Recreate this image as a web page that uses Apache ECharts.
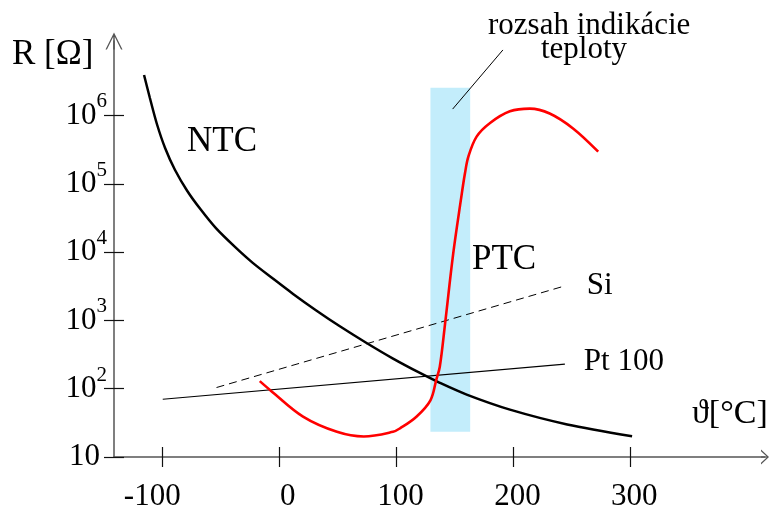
<!DOCTYPE html>
<html><head><meta charset="utf-8">
<script src="https://cdn.jsdelivr.net/npm/echarts@6/dist/echarts.min.js"></script>
<style>html,body{margin:0;padding:0;background:#fff}#c{width:779px;height:514px}</style>
</head><body><div id="c"></div>
<script>
// ---- data (temperature in °C, resistance in Ω) ----
const tempTicks = [-100, 0, 100, 200, 300];
const decadeTicks = [1, 2, 3, 4, 5, 6];          // exponents: 10, 10^2 ... 10^6

const ntcTemp = [-116, -111, -105, -98, -89.5, -79, -68, -54.5, -38, -23, -5.5, 11.5, 31, 51.5, 74, 97, 120, 137, 160, 197, 246, 301.5];
const ntcR    = [3.92e6, 1.8e6, 7.5e5, 3.34e5, 1.59e5, 7.85e4, 4.3e4, 2.24e4, 1.18e4, 6.95e3, 4.06e3, 2.44e3, 1.41e3, 820, 471, 276, 170, 122, 82, 49.4, 30, 20.2];

const ptcTemp = [-17, -8, 20, 49, 72, 97, 103, 117, 129, 134, 137, 141.5, 148.5, 155, 158.5, 161.5, 168.5, 180, 197, 214, 231, 251, 272.5];
const ptcR    = [129, 95, 39, 23.4, 20, 23.4, 26.3, 38.9, 67.6, 135, 209, 891, 9550, 5.75e4, 1.41e5, 2.51e5, 4.9e5, 7.76e5, 1.15e6, 1.26e6, 1.07e6, 6.46e5, 2.95e5];

const siTemp = [-54, 243];
const siR    = [104, 3160];

const ptTemp = [-100, 244];
const ptR    = [70, 229];

const bandTemp = [129, 163];
const bandR    = [23.4, 2.55e6];

const leaderTemp = [148, 191];
const leaderR    = [1.24e6, 9.1e6];

// ---- chart ----
const FONT = '"Liberation Serif", "Times New Roman", serif';
const lg = v => Math.log10(v);
const pts = (t, r) => t.map((x, i) => [x, lg(r[i])]);

const X_MIN = -141.7, X_MAX = 415.2, Y_MIN = 1, Y_MAX = 7.09;
const X_ARROW = 'path://M7.5,0L15,8L13.35,8L7.5,1.75L1.65,8L0,8ZM6.9,1.75L8.1,1.75L8.1,8L6.9,8Z';
const Y_ARROW = 'path://M8,0L16,16L14.66,16L8,2.7L1.34,16L0,16ZM7.3,2.6L8.7,2.6L8.7,16L7.3,16Z';

const axisLineStyle = {color: '#555', width: 1.5};
const tickStyle = {color: '#111', width: 1.2};
const xRich = {
  n: {fontSize: 31, lineHeight: 31, fontFamily: FONT, color: '#000', padding: [0, 29, 0, 0]},
  z: {fontSize: 31, lineHeight: 31, fontFamily: FONT, color: '#000', padding: [0, 0, 0, 8]},
  p: {fontSize: 31, lineHeight: 31, fontFamily: FONT, color: '#000'}
};

const chart = echarts.init(document.getElementById('c'), null, {renderer: 'canvas'});
chart.setOption({
  animation: false,
  backgroundColor: '#fff',
  grid: {left: 114, right: 14, top: 41, bottom: 57, containLabel: false},
  xAxis: [
    {type: 'value', position: 'bottom', min: X_MIN, max: X_MAX,
     axisLine: {show: true, onZero: false, symbol: ['none', X_ARROW], symbolSize: [15, 8], lineStyle: axisLineStyle},
     axisTick: {show: true, inside: false, length: 10, customValues: tempTicks, lineStyle: tickStyle},
     axisLabel: {show: true, customValues: tempTicks, margin: 24, fontSize: 31, lineHeight: 31, fontFamily: FONT, color: '#000', padding: [0, 0, 0, 8],
       formatter: v => (v < 0 ? '{n|' : v === 0 ? '{z|' : '{p|') + v + '}', rich: xRich},
     splitLine: {show: false}},
    {type: 'value', position: 'bottom', min: X_MIN, max: X_MAX,
     axisLine: {show: false, onZero: false},
     axisTick: {show: true, inside: true, length: 10, customValues: tempTicks, lineStyle: tickStyle},
     axisLabel: {show: false}, splitLine: {show: false}}
  ],
  yAxis: [
    {type: 'value', position: 'left', min: Y_MIN, max: Y_MAX,
     axisLine: {show: true, onZero: false, symbol: ['none', Y_ARROW], symbolSize: [17, 17], lineStyle: axisLineStyle},
     axisTick: {show: true, inside: false, length: 10, customValues: decadeTicks, lineStyle: tickStyle},
     axisLabel: {show: true, customValues: decadeTicks, margin: 7, color: '#000',
       formatter: v => v === 1 ? '{b|10}{sp| }' : '{b|10}{s|' + v + '}',
       rich: {
         b: {fontSize: 31, lineHeight: 48, fontFamily: FONT, color: '#000', verticalAlign: 'middle'},
         s: {fontSize: 21, fontFamily: FONT, color: '#000', verticalAlign: 'top'},
         sp: {width: 7, fontSize: 10}
       }},
     splitLine: {show: false}},
    {type: 'value', position: 'left', min: Y_MIN, max: Y_MAX,
     axisLine: {show: false, onZero: false},
     axisTick: {show: true, inside: true, length: 10, customValues: decadeTicks, lineStyle: tickStyle},
     axisLabel: {show: false}, splitLine: {show: false}}
  ],
  series: [
    {name: 'band', type: 'custom', z: 1, silent: true,
     data: [[bandTemp[0], lg(bandR[0]), bandTemp[1], lg(bandR[1])]],
     encode: {x: [0, 2], y: [1, 3]},
     renderItem: (params, api) => {
       const p0 = api.coord([api.value(0), api.value(1)]);
       const p1 = api.coord([api.value(2), api.value(3)]);
       return {type: 'rect', shape: {x: p0[0], y: p1[1], width: p1[0] - p0[0], height: p0[1] - p1[1]},
               style: {fill: '#C3EDFB'}};
     }},
    {name: 'leader', type: 'line', z: 2, data: pts(leaderTemp, leaderR), symbol: 'none', silent: true,
     lineStyle: {color: '#000', width: 1}},
    {name: 'Pt 100', type: 'line', z: 3, data: pts(ptTemp, ptR), symbol: 'none',
     lineStyle: {color: '#000', width: 1.2},
     endLabel: {show: true, formatter: 'Pt 100', distance: 19, offset: [0, -2], fontSize: 31, fontFamily: FONT, color: '#000'}},
    {name: 'Si', type: 'line', z: 3, data: pts(siTemp, siR), symbol: 'none',
     lineStyle: {color: '#000', width: 1, type: [8, 5]},
     endLabel: {show: true, formatter: 'Si', distance: 23, fontSize: 31, fontFamily: FONT, color: '#000'}},
    {name: 'NTC', type: 'line', z: 4, data: pts(ntcTemp, ntcR), symbol: 'none', smooth: 0.3,
     lineStyle: {color: '#000', width: 2.5}},
    {name: 'PTC', type: 'line', z: 5, data: pts(ptcTemp, ptcR), symbol: 'none', smooth: 0.35,
     lineStyle: {color: '#ff0000', width: 2.6}}
  ],
  graphic: [
    {type: 'text', x: 12, y: 55, style: {text: 'R [Ω]', font: '35px ' + FONT, fill: '#000', textAlign: 'left', textVerticalAlign: 'middle', align: 'left', verticalAlign: 'middle'}},
    {type: 'text', x: 692, y: 414, style: {text: 'ϑ[°C]', font: '34px ' + FONT, fill: '#000', textAlign: 'left', textVerticalAlign: 'middle', align: 'left', verticalAlign: 'middle'}},
    {type: 'text', x: 187, y: 142, style: {text: 'NTC', font: '35px ' + FONT, fill: '#000', textAlign: 'left', textVerticalAlign: 'middle', align: 'left', verticalAlign: 'middle'}},
    {type: 'text', x: 472, y: 260, style: {text: 'PTC', font: '35px ' + FONT, fill: '#000', textAlign: 'left', textVerticalAlign: 'middle', align: 'left', verticalAlign: 'middle'}},
    {type: 'text', x: 488, y: 26, style: {text: 'rozsah indikácie', font: '31px ' + FONT, fill: '#000', textAlign: 'left', textVerticalAlign: 'middle', align: 'left', verticalAlign: 'middle'}},
    {type: 'text', x: 541, y: 49.5, style: {text: 'teploty', font: '31px ' + FONT, fill: '#000', textAlign: 'left', textVerticalAlign: 'middle', align: 'left', verticalAlign: 'middle'}}
  ]
});
</script>
</body></html>
